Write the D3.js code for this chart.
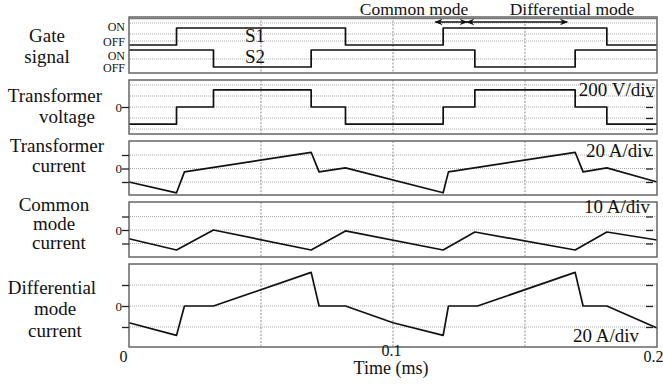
<!DOCTYPE html>
<html>
<head>
<meta charset="utf-8">
<script src="https://cdn.jsdelivr.net/npm/d3@7"></script>
<style>
  body { margin: 0; background: #fff; }
  svg { display: block; font-family: "Liberation Serif", "DejaVu Serif", serif; }
</style>
</head>
<body>
<svg id="chart" width="663" height="385"></svg>
<script>
// ---- data (time in ms) ----
var s1Time = [0, 0.018, 0.082, 0.119, 0.181, 0.2];
var s1State = [0, 1, 0, 1, 0, 0];
var s2Time = [0, 0.032, 0.069, 0.131, 0.169, 0.2];
var s2State = [1, 0, 1, 0, 1, 1];

var voltTime = [0, 0.018, 0.032, 0.069, 0.082, 0.119, 0.131, 0.169, 0.181, 0.2];
var voltValue = [-310, 0, 310, 0, -310, 0, 310, 0, -310, -310];

var trCurTime = [0, 0.018, 0.021, 0.069, 0.072, 0.082, 0.119, 0.121, 0.169, 0.172, 0.181, 0.2];
var trCurValue = [-20, -36, -5, 24, -5, 1, -36, -5, 24, -5, 1, -20];

var cmTime = [0, 0.018, 0.032, 0.069, 0.082, 0.119, 0.131, 0.169, 0.181, 0.2];
var cmValue = [-6.5, -14.8, 0, -14.8, -0.7, -14.8, -1.5, -14.8, -1.5, -7.4];

var dmTime = [0, 0.018, 0.021, 0.032, 0.069, 0.072, 0.082, 0.1, 0.119, 0.121, 0.132, 0.169, 0.172, 0.181, 0.2];
var dmValue = [-16, -28, 0, 0, 32, 0, 0, -16, -28, 0, 0, 32, 0, 0, -21];

var timeTicks = [0, 0.1, 0.2];
var timeGrid = [0.05, 0.1, 0.15];
var cmArrow = [0.116, 0.128];
var dmArrow = [0.128, 0.166];

var voltGrid = [-400, -200, 0, 200, 400];
var voltRight = [-400, -200, 0, 200];
var curGrid = [-20, 0, 20];
var cmGrid = [-10, 0, 10];
var dmGrid = [-20, 0, 20];

// ---- layout ----
var svg = d3.select('#chart');
var x = d3.scaleLinear().domain([0, 0.2]).range([129, 657]);

var panels = [
	{ top: 17, bottom: 73 },
	{ top: 80, bottom: 134 },
	{ top: 141, bottom: 195 },
	{ top: 202, bottom: 257 },
	{ top: 264, bottom: 347 }
];

var yS1 = d3.scaleLinear().domain([0, 1]).range([45, 28]);
var yS2 = d3.scaleLinear().domain([0, 1]).range([67, 50]);
var yVolt = d3.scaleLinear().domain([-200, 200]).range([118, 96]);
var yCur = d3.scaleLinear().domain([-20, 20]).range([182, 155]);
var yCm = d3.scaleLinear().domain([-10, 10]).range([243.5, 216.5]);
var yDm = d3.scaleLinear().domain([-20, 20]).range([327, 285]);

// dotted horizontal grid
function hGrid(ys) {
	svg.append('g').selectAll('line').data(ys).join('line')
		.attr('x1', 130).attr('x2', 656)
		.attr('y1', function(d) { return d; }).attr('y2', function(d) { return d; })
		.attr('stroke', '#a8a8a8').attr('stroke-width', 1)
		.attr('stroke-dasharray', '1,1');
}
hGrid([23, 34, 41, 59]);
hGrid(voltGrid.map(yVolt));
hGrid(curGrid.map(yCur));
hGrid(cmGrid.map(yCm));
hGrid(dmGrid.map(yDm));

// dashed vertical grid in every panel
panels.forEach(function(p) {
	svg.append('g').selectAll('line').data(timeGrid).join('line')
		.attr('x1', x).attr('x2', x)
		.attr('y1', p.top).attr('y2', p.bottom)
		.attr('stroke', '#8a8a8a').attr('stroke-width', 1)
		.attr('stroke-dasharray', '2,1.5');
});

// traces
function trace(ts, vs, y, step) {
	var line = d3.line()
		.x(function(d) { return x(d[0]); })
		.y(function(d) { return y(d[1]); });
	if (step) line.curve(d3.curveStepAfter);
	svg.append('path')
		.datum(d3.zip(ts, vs))
		.attr('d', line)
		.attr('fill', 'none')
		.attr('stroke', '#111')
		.attr('stroke-width', 1.7)
		.attr('stroke-linejoin', 'round');
}
trace(s1Time, s1State, yS1, true);
trace(s2Time, s2State, yS2, true);
trace(voltTime, voltValue, yVolt, true);
trace(trCurTime, trCurValue, yCur, false);
trace(cmTime, cmValue, yCm, false);
trace(dmTime, dmValue, yDm, false);

// panel frames
svg.append('g').selectAll('rect').data(panels).join('rect')
	.attr('x', 129).attr('width', 528)
	.attr('y', function(d) { return d.top; })
	.attr('height', function(d) { return d.bottom - d.top; })
	.attr('fill', 'none').attr('stroke', '#666').attr('stroke-width', 1.5);
svg.append('line').attr('x1', 129).attr('x2', 657).attr('y1', 18.5).attr('y2', 18.5)
	.attr('stroke', '#777').attr('stroke-width', 1.5);

// left axes (zero label only)
function leftAxis(y, vals) {
	var g = svg.append('g').attr('transform', 'translate(129,0)')
		.call(d3.axisLeft(y).tickValues(vals).tickSize(7)
			.tickFormat(function(d) { return d === 0 ? '0' : ''; }));
	g.select('.domain').remove();
	g.selectAll('line').attr('stroke', '#222').attr('stroke-width', 1.3);
	g.selectAll('text').attr('font-family', 'Liberation Serif').attr('font-size', 13)
		.attr('fill', '#111').attr('x', -7);
}
leftAxis(yVolt, [0]);
leftAxis(yCur, curGrid);
leftAxis(yCm, cmGrid);
leftAxis(yDm, dmGrid);

// right tick marks
function rightTicks(y, vals) {
	var g = svg.append('g').attr('transform', 'translate(653,0)')
		.call(d3.axisLeft(y).tickValues(vals).tickSize(7).tickFormat(''));
	g.select('.domain').remove();
	g.selectAll('line').attr('stroke', '#222').attr('stroke-width', 1.3);
}
rightTicks(yVolt, voltRight);
rightTicks(yCur, curGrid);
rightTicks(yCm, cmGrid);
rightTicks(yDm, dmGrid);

// time axis labels
var xAxis = svg.append('g').attr('transform', 'translate(0,347)')
	.call(d3.axisBottom(x).tickValues(timeTicks).tickSize(0)
		.tickFormat(function(d) { return d === 0 ? '0' : d3.format('.1f')(d); }));
xAxis.select('.domain').remove();
xAxis.selectAll('text')
	.attr('font-family', 'Liberation Serif').attr('font-size', 16).attr('fill', '#111')
	.attr('dy', null)
	.attr('y', function(d) { return d === 0.1 ? 9 : 15; })
	.attr('x', function(d) { return d === 0 ? -6 : (d === 0.2 ? 6 : -2); })
	.attr('text-anchor', function(d) { return d === 0.2 ? 'end' : 'middle'; });

svg.append('text').attr('x', 391).attr('y', 374).attr('text-anchor', 'middle')
	.attr('font-size', 18).attr('fill', '#111').text('Time (ms)');

// left panel titles
var titleLines = [
	['Gate', 47, 42], ['signal', 47, 63],
	['Transformer', 55, 102], ['voltage', 67, 123],
	['Transformer', 57, 152], ['current', 59, 172],
	['Common', 54, 211], ['mode', 54, 230], ['current', 59, 249],
	['Differential', 52, 294], ['mode', 55, 315], ['current', 55, 337]
];
svg.append('g').selectAll('text').data(titleLines).join('text')
	.attr('x', function(d) { return d[1]; })
	.attr('y', function(d) { return d[2]; })
	.attr('text-anchor', 'middle').attr('font-size', 19).attr('fill', '#111')
	.text(function(d) { return d[0]; });

// gate state labels
var stateLabels = [['ON', 31], ['OFF', 46], ['ON', 59.5], ['OFF', 72]];
svg.append('g').selectAll('text').data(stateLabels).join('text')
	.attr('x', 125).attr('y', function(d) { return d[1]; })
	.attr('text-anchor', 'end').attr('font-size', 12).attr('fill', '#111')
	.text(function(d) { return d[0]; });

svg.append('text').attr('x', 255).attr('y', 42).attr('text-anchor', 'middle')
	.attr('font-size', 19).attr('fill', '#111').text('S1');
svg.append('text').attr('x', 255).attr('y', 63).attr('text-anchor', 'middle')
	.attr('font-size', 19).attr('fill', '#111').text('S2');

// scale labels
var unitLabels = [['200 V/div', 655, 96], ['20 A/div', 652, 157], ['10 A/div', 650, 213], ['20 A/div', 639, 342]];
svg.append('g').selectAll('text').data(unitLabels).join('text')
	.attr('x', function(d) { return d[1]; })
	.attr('y', function(d) { return d[2]; })
	.attr('text-anchor', 'end').attr('font-size', 19).attr('fill', '#111')
	.text(function(d) { return d[0]; });

// mode annotations with double arrows
var defs = svg.append('defs');
defs.append('marker').attr('id', 'head')
	.attr('viewBox', '0 0 10 10').attr('refX', 9).attr('refY', 5)
	.attr('markerWidth', 8).attr('markerHeight', 8)
	.attr('markerUnits', 'userSpaceOnUse').attr('orient', 'auto-start-reverse')
	.append('path').attr('d', 'M0,1 L10,5 L0,9 L3,5 Z').attr('fill', '#111');

[cmArrow, dmArrow].forEach(function(a) {
	svg.append('line')
		.attr('x1', x(a[0])).attr('x2', x(a[1]))
		.attr('y1', 22).attr('y2', 22)
		.attr('stroke', '#111').attr('stroke-width', 1.5)
		.attr('marker-start', 'url(#head)').attr('marker-end', 'url(#head)');
});
svg.append('text').attr('x', 414).attr('y', 15).attr('text-anchor', 'middle')
	.attr('font-size', 17.5).attr('fill', '#111').text('Common mode');
svg.append('text').attr('x', 572).attr('y', 15).attr('text-anchor', 'middle')
	.attr('font-size', 17.5).attr('fill', '#111').text('Differential mode');
</script>
</body>
</html>
